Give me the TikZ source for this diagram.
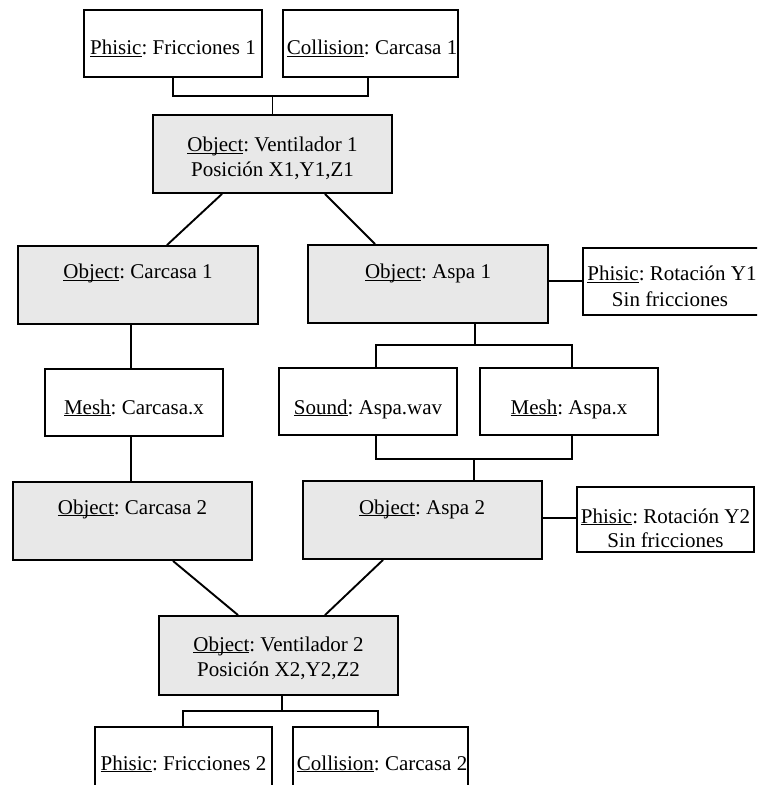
\documentclass[tikz,border=0pt]{standalone}
\usepackage{fontspec}
\setmainfont{Liberation Serif}
\usetikzlibrary{fit}
\definecolor{boxgray}{HTML}{E8E8E8}
\newcommand{\myul}[1]{\leavevmode\setbox0=\hbox{#1}\rlap{\rule[-0.11em]{\wd0}{0.055em}}\box0}
\frenchspacing
\begin{document}
\begin{tikzpicture}[x=0.5pt,y=-0.5pt,line width=0.95pt,
  wbox/.style={draw, fit={#1}, inner sep=0pt, fill=white},
  gbox/.style={draw, fit={#1}, inner sep=0pt, fill=boxgray},
  txt/.style={anchor=base, inner sep=0pt, font=\fontsize{10.5}{13}\selectfont},
  txtw/.style={anchor=base west, inner sep=0pt, font=\fontsize{10.5}{13}\selectfont},
  wire/.style={line width=0.95pt}]
\useasboundingbox (0,0) rectangle (757,785);
\clip (0,0) rectangle (757,785);
% boxes
\node[wbox={(84,10) (262,77)}] (phis1) {};
\node[wbox={(283,10) (458,77)}] (coll1) {};
\node[gbox={(153,115) (392,193)}] (vent1) {};
\node[gbox={(18,246) (258,324)}] (carc1) {};
\node[gbox={(308,245) (548,323)}] (aspa1) {};
\node[wbox={(583,248) (760,315)}] (rot1) {};
\node[wbox={(45,369) (223,436)}] (mesh1) {};
\node[wbox={(279,368) (457,435)}] (sound) {};
\node[wbox={(480,368) (658,435)}] (mesha) {};
\node[gbox={(13,482) (252,560)}] (carc2) {};
\node[gbox={(303,481) (542,559)}] (aspa2) {};
\node[wbox={(577,487) (754,552)}] (rot2) {};
\node[gbox={(159,616) (398,695)}] (vent2) {};
\node[wbox={(95,727) (272,800)}] (phis2) {};
\node[wbox={(293,727) (468,800)}] (coll2) {};
% texts
\node[txt] (tphis1) at (173,55) {\myul{Phisic}: Fricciones 1};
\node[txtw] (tcoll1) at (286,55) {\myul{Collision}: Carcasa 1};
\node[txt] (tvent1a) at (272.5,152) {\myul{Object}: Ventilador 1};
\node[txt] (tvent1b) at (272.5,177) {Posición X1,Y1,Z1};
\node[txt] (tcarc1) at (138,279) {\myul{Object}: Carcasa 1};
\node[txt] (taspa1) at (428,279) {\myul{Object}: Aspa 1};
\node[txt] (trot1a) at (672,281) {\myul{Phisic}: Rotación Y1};
\node[txt] (trot1b) at (670,307) {Sin fricciones};
\node[txt] (tmesh1) at (134,414) {\myul{Mesh}: Carcasa.x};
\node[txt] (tsound) at (368,414) {\myul{Sound}: Aspa.wav};
\node[txt] (tmesha) at (569,414) {\myul{Mesh}: Aspa.x};
\node[txt] (tcarc2) at (132.5,514) {\myul{Object}: Carcasa 2};
\node[txt] (taspa2) at (422,514) {\myul{Object}: Aspa 2};
\node[txt] (trot2a) at (665.5,523) {\myul{Phisic}: Rotación Y2};
\node[txt] (trot2b) at (665.5,547) {Sin fricciones};
\node[txt] (tvent2a) at (278.5,651) {\myul{Object}: Ventilador 2};
\node[txt] (tvent2b) at (278.5,676) {Posición X2,Y2,Z2};
\node[txt] (tphis2) at (183.5,770) {\myul{Phisic}: Fricciones 2};
\node[txtw] (tcoll2) at (296,770) {\myul{Collision}: Carcasa 2};
% connectors
\coordinate (j1) at (vent1.north |- 0,96);
\draw[wire] (phis1.south) |- (368,96) -- (coll1.south -| 368,0);
\draw[wire] (j1) -- (vent1.north);
\draw[wire] (vent1.south -| 222,0) -- (carc1.north -| 167,0);
\draw[wire] (vent1.south -| 325,0) -- (aspa1.north -| 375,0);
\draw[wire] (aspa1.east |- 0,281) -- (rot1.west |- 0,281);
\draw[wire] (carc1.south -| 131,0) -- (mesh1.north -| 131,0);
\coordinate (j2) at (475,345);
\draw[wire] (aspa1.south -| j2) -- (j2);
\draw[wire] (sound.north -| 376,0) |- (j2) -| (mesha.north -| 572,0);
\draw[wire] (mesh1.south -| 131,0) -- (carc2.north -| 131,0);
\coordinate (j3) at (474,459);
\draw[wire] (sound.south -| 376,0) |- (j3) -| (mesha.south -| 572,0);
\draw[wire] (j3) -- (aspa2.north -| j3);
\draw[wire] (aspa2.east |- 0,518) -- (rot2.west |- 0,518);
\draw[wire] (carc2.south -| 173,0) -- (vent2.north -| 238,0);
\draw[wire] (aspa2.south -| 383,0) -- (vent2.north -| 325,0);
\coordinate (j4) at (282,711);
\draw[wire] (vent2.south -| j4) -- (j4);
\draw[wire] (phis2.north -| 183,0) |- (j4) -| (coll2.north -| 378,0);
\end{tikzpicture}
\end{document}
